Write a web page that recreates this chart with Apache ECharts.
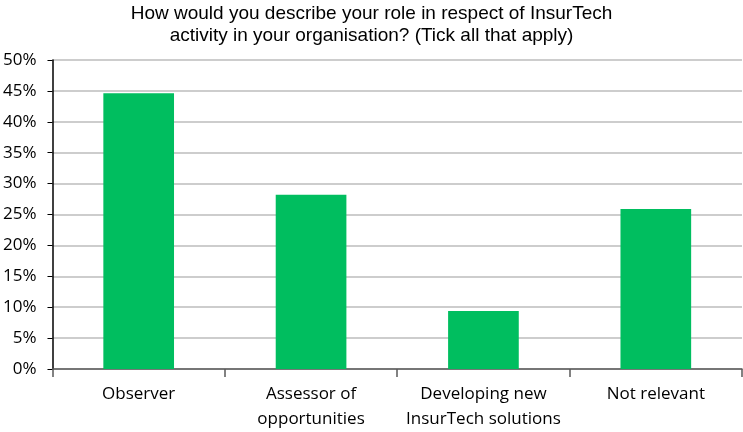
<!DOCTYPE html>
<html>
<head>
<meta charset="utf-8">
<script src="https://cdn.jsdelivr.net/npm/echarts@6/dist/echarts.min.js"></script>
<style>
  html, body { margin: 0; padding: 0; background: #fff; }
  #chart { width: 743px; height: 432px; }
</style>
</head>
<body>
<div id="chart"></div>
<script>
const titleLines = ['How would you describe your role in respect of InsurTech', 'activity in your organisation? (Tick all that apply)']
const categories = ['Observer', 'Assessor of\nopportunities', 'Developing new\nInsurTech solutions', 'Not relevant']
const shares = [44.6, 28.2, 9.4, 25.9]

const chart = echarts.init(document.getElementById('chart'))
chart.setOption({
  animation: false,
  title: {
    text: titleLines.join('\n'),
    left: 'center',
    top: -2,
    textStyle: {
      fontFamily: 'Liberation Sans',
      fontWeight: 'normal',
      fontSize: 19,
      lineHeight: 22,
      color: '#000'
    }
  },
  grid: { left: 51, right: 1, top: 60, bottom: 63 },
  xAxis: {
    type: 'category',
    data: categories,
    axisLine: { lineStyle: { color: '#595959', width: 1.5 } },
    axisTick: { show: true, length: 8, lineStyle: { color: '#595959', width: 1.5 } },
    axisLabel: {
      interval: 0,
      fontFamily: 'Open Sans',
      fontSize: 17,
      lineHeight: 25,
      color: '#000',
      margin: 13
    }
  },
  yAxis: {
    type: 'value',
    min: 0,
    max: 50,
    interval: 5,
    axisLine: { show: true, lineStyle: { color: '#000', width: 1.5 } },
    axisTick: { show: true, length: 5, lineStyle: { color: '#000' } },
    axisLabel: {
      formatter: '{value}%',
      fontFamily: 'Open Sans',
      fontSize: 17,
      color: '#000',
      margin: 16
    },
    splitLine: { lineStyle: { color: '#bcbcbc', width: 1.5 } }
  },
  series: [{
    type: 'bar',
    data: shares,
    barWidth: '41%',
    itemStyle: { color: '#00BE5F' }
  }]
})
</script>
</body>
</html>
